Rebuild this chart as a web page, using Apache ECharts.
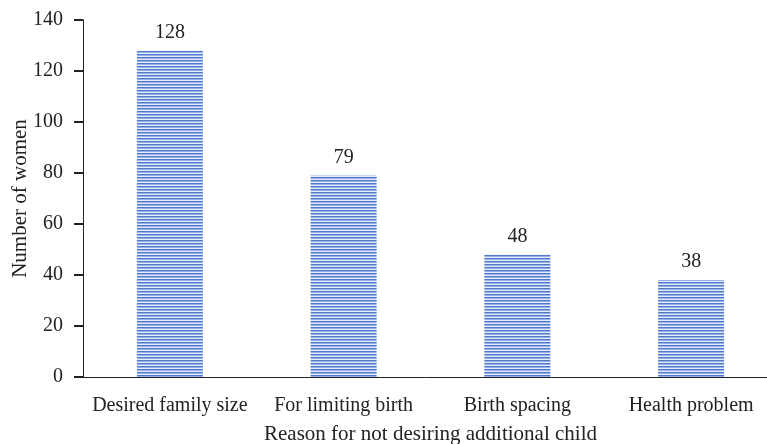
<!DOCTYPE html>
<html><head><meta charset="utf-8">
<script src="https://cdn.jsdelivr.net/npm/echarts@6/dist/echarts.min.js"></script>
<style>html,body{margin:0;padding:0;background:#fff}#c{width:767px;height:444px}</style>
</head><body><div id="c"></div>
<script>
const categories = ['Desired family size', 'For limiting birth', 'Birth spacing', 'Health problem'];
const values = [128, 79, 48, 38];
const yTicks = [0, 20, 40, 60, 80, 100, 120, 140];

const pc = document.createElement('canvas');
pc.width = 4; pc.height = 3;
const g = pc.getContext('2d');
g.fillStyle = '#5279cc'; g.fillRect(0, 0, 4, 1);
g.fillStyle = '#94b0e6'; g.fillRect(0, 1, 4, 1);
g.fillStyle = '#e6edf9'; g.fillRect(0, 2, 4, 1);

const font = 'Liberation Serif';
const fs = 20;
const nfs = 21;
const chart = echarts.init(document.getElementById('c'));
chart.setOption({
  animation: false,
  grid: { left: 83, right: -11, top: 20, bottom: 67, outerBoundsMode: 'none', containLabel: false },
  xAxis: {
    type: 'category', data: categories,
    name: 'Reason for not desiring additional child', nameLocation: 'middle', nameGap: 47,
    nameMoveOverlap: false,
    nameTextStyle: { fontFamily: font, fontSize: nfs, color: '#222' },
    axisLine: { lineStyle: { color: '#222', width: 1 } },
    axisTick: { alignWithLabel: true, length: 6, lineStyle: { color: '#222', width: 2 } },
    axisLabel: { interval: 0, fontFamily: font, fontSize: fs, color: '#222', margin: 19 }
  },
  yAxis: {
    type: 'value', min: yTicks[0], max: yTicks[yTicks.length - 1], interval: 20,
    name: 'Number of women', nameLocation: 'middle', nameGap: 52,
    nameMoveOverlap: false,
    nameTextStyle: { fontFamily: font, fontSize: nfs, color: '#222' },
    axisLine: { show: true, lineStyle: { color: '#222', width: 1 } },
    axisTick: { show: true, length: 9, lineStyle: { color: '#222', width: 2 } },
    axisLabel: { fontFamily: font, fontSize: fs, color: '#222', margin: 20 },
    splitLine: { show: false }
  },
  series: [{
    type: 'bar', data: values, barWidth: 66,
    itemStyle: { color: { image: pc, repeat: 'repeat' } },
    label: { show: true, position: 'top', distance: 8, fontFamily: font, fontSize: fs, color: '#222' }
  }]
});
</script></body></html>
